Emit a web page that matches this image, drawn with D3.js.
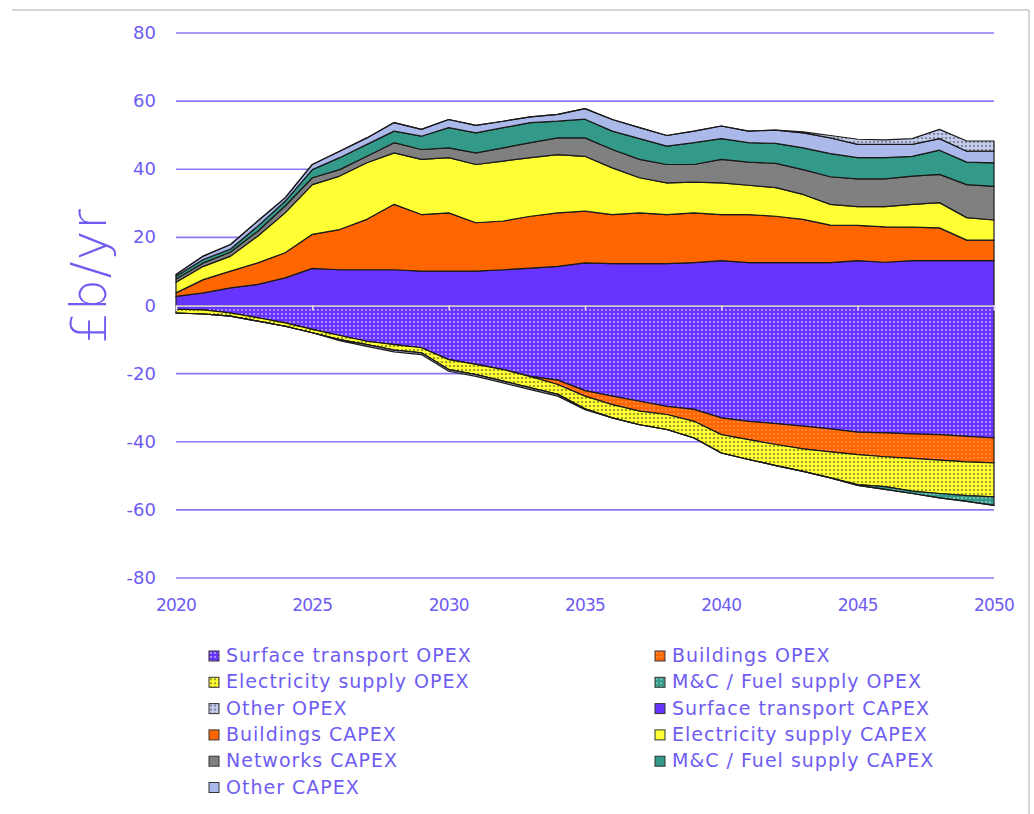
<!DOCTYPE html>
<html>
<head>
<meta charset="utf-8">
<script src="https://cdn.jsdelivr.net/npm/d3@7"></script>
<style>
	body { margin: 0; background: #fff; }
	svg text { font-family: "DejaVu Sans", sans-serif; }
</style>
</head>
<body>
<svg id="chart" width="1034" height="814"></svg>
<script>
// Years on the x axis
var years = d3.range(2020, 2051);

// OPEX series (negative = savings), £b/yr
var stOpex = [-1.1,-1.3,-2.2,-3.6,-5.1,-7.0,-8.8,-10.5,-11.5,-12.4,-15.9,-17.3,-18.8,-20.8,-21.9,-25.0,-26.6,-28.1,-29.6,-30.5,-33.0,-34.0,-34.7,-35.4,-36.2,-37.2,-37.4,-37.7,-37.9,-38.4,-38.9];
var bOpex = [0,0,0,0,0,0,0,0,0,0,0,0,0,-0.1,-1.3,-1.6,-2.5,-2.9,-2.4,-3.5,-4.9,-5.4,-6.1,-6.7,-6.8,-6.6,-7.0,-7.2,-7.5,-7.5,-7.3];
var eOpex = [-1.1,-1.2,-0.9,-1.0,-1.0,-1.0,-1.2,-1.0,-1.6,-1.5,-2.9,-3.0,-3.4,-3.3,-2.9,-3.7,-3.9,-4.0,-4.4,-4.9,-5.4,-5.8,-6.2,-6.6,-7.6,-8.8,-8.8,-9.6,-9.8,-9.9,-10.0];
var mcOpex = [0,0,0,0,0,0,0,0,0,0,0,0,0,0,0,0,0,0,0,0,0,0,0,0,0,-0.2,-0.8,-0.7,-1.3,-1.7,-2.5];
var otherOpex = [0,0,0,0,0,0,-0.3,-0.5,-0.5,-0.5,-0.5,-0.5,-0.5,-0.5,-0.5,-0.3,0,0,0,0,0,0,0,0.3,0.7,1.5,1.3,1.7,2.7,3.0,3.0];

// CAPEX series
var stCapex = [2.7,3.7,5.2,6.2,8.1,10.9,10.5,10.5,10.5,10.1,10.1,10.1,10.5,11.0,11.5,12.5,12.3,12.3,12.3,12.6,13.2,12.6,12.6,12.6,12.6,13.2,12.7,13.2,13.2,13.2,13.2];
var bCapex = [1.0,3.9,4.9,6.3,7.4,10.0,11.8,14.8,19.2,16.6,17.1,14.2,14.3,15.2,15.7,15.2,14.4,14.9,14.4,14.6,13.5,14.1,13.6,12.7,11.0,10.3,10.4,9.8,9.6,6.0,6.0];
var eCapex = [3.1,3.9,4.4,7.9,11.7,14.6,15.7,16.6,15.1,16.2,16.2,17.1,17.6,17.2,17.1,16.1,13.7,10.3,9.3,9.0,9.3,8.6,8.4,7.3,6.1,5.5,5.9,6.7,7.4,6.6,5.9];
var netCapex = [1.0,1.0,1.2,1.4,2.0,2.0,1.9,1.9,3.0,2.9,2.9,3.4,3.9,4.4,4.9,5.4,5.4,5.4,5.4,5.2,6.9,6.8,7.1,7.3,8.1,8.2,8.2,8.3,8.3,9.7,9.9];
var mcCapex = [0.8,1.0,0.9,1.5,1.4,2.4,3.5,3.5,3.4,3.9,5.9,5.9,5.9,5.9,4.9,5.5,5.4,6.1,5.4,6.4,6.1,5.7,5.9,6.4,6.8,6.2,6.2,5.8,7.1,6.6,6.9];
var otherCapex = [0.5,1.0,1.3,1.5,1.0,1.5,1.9,1.9,2.5,2.0,2.4,2.2,1.9,1.7,2.0,3.1,3.4,3.2,3.1,3.4,3.7,3.4,3.9,4.4,4.6,3.9,3.9,3.5,3.4,3.2,3.4];

// Legend order (row-major, two columns)
var seriesNames = ["Surface transport OPEX","Buildings OPEX","Electricity supply OPEX","M&C / Fuel supply OPEX","Other OPEX",
	"Surface transport CAPEX","Buildings CAPEX","Electricity supply CAPEX","Networks CAPEX","M&C / Fuel supply CAPEX","Other CAPEX"];
var seriesValues = [stOpex,bOpex,eOpex,mcOpex,otherOpex,stCapex,bCapex,eCapex,netCapex,mcCapex,otherCapex];

var yTicks = [-80,-60,-40,-20,0,20,40,60,80];
var xTicks = [2020,2025,2030,2035,2040,2045,2050];

// stacking order: savings below zero, spending above
var negKeys = ["Surface transport OPEX","Buildings OPEX","Electricity supply OPEX","M&C / Fuel supply OPEX","Other OPEX"];
var posKeys = ["Surface transport CAPEX","Buildings CAPEX","Electricity supply CAPEX","Networks CAPEX","M&C / Fuel supply CAPEX","Other CAPEX","Other OPEX"];

// fill for each series: base colour, dot colour (null = solid)
var fills = {
	"Surface transport OPEX": ["#6633ff","#ffffff"],
	"Buildings OPEX": ["#ff6600","#ffb080"],
	"Electricity supply OPEX": ["#ffff33","#222222"],
	"M&C / Fuel supply OPEX": ["#339988","#c8f0e8"],
	"Other OPEX": ["#c4ccee","#333333"],
	"Surface transport CAPEX": ["#6633ff",null],
	"Buildings CAPEX": ["#ff6600",null],
	"Electricity supply CAPEX": ["#ffff33",null],
	"Networks CAPEX": ["#808080",null],
	"M&C / Fuel supply CAPEX": ["#339988",null],
	"Other CAPEX": ["#aab8ea",null]
};

var TEXT_COL = "#6e5cf2";
var GRID_COL = "#8a78f6";
var LEFT = 176, RIGHT = 994, TOP = 33, BOTTOM = 578;

var rows = years.map(function(y, i) {
	var r = { year: y };
	seriesNames.forEach(function(n, k) { r[n] = seriesValues[k][i]; });
	return r;
});

var svg = d3.select("#chart");

// outer frame lines
svg.append("line").attr("x1",12).attr("x2",1029).attr("y1",10).attr("y2",10)
	.attr("stroke","#c8c8c8").attr("stroke-width",1.5);
svg.append("line").attr("x1",1029).attr("x2",1029).attr("y1",10).attr("y2",814)
	.attr("stroke","#c8c8c8").attr("stroke-width",1.5);

// dotted patterns
var defs = svg.append("defs");
function patId(name) { return "pat" + seriesNames.indexOf(name); }
seriesNames.forEach(function(n) {
	var f = fills[n];
	if( f[1] == null ) return;
	var p = defs.append("pattern")
		.attr("id", patId(n))
		.attr("patternUnits","userSpaceOnUse")
		.attr("width",4).attr("height",4);
	p.append("rect").attr("width",4).attr("height",4).attr("fill",f[0]);
	p.append("circle").attr("cx",2).attr("cy",2).attr("r",0.8).attr("fill",f[1]);
});
function fillOf(n) {
	return fills[n][1] == null ? fills[n][0] : "url(#" + patId(n) + ")";
}

var x = d3.scaleLinear().domain([2020,2050]).range([LEFT,RIGHT]);
var y = d3.scaleLinear().domain([-80,80]).range([BOTTOM,TOP]);

// horizontal grid
svg.append("g")
	.selectAll("line")
	.data(yTicks)
	.enter()
	.append("line")
	.attr("x1",LEFT).attr("x2",RIGHT)
	.attr("y1",function(d) { return y(d); })
	.attr("y2",function(d) { return y(d); })
	.attr("stroke",GRID_COL)
	.attr("stroke-width",1.6);

// stacks
var posStack = d3.stack().keys(posKeys).value(function(d,k) { return Math.max(d[k],0); })(rows);
var negStack = d3.stack().keys(negKeys).value(function(d,k) { return Math.min(d[k],0); })(rows);

var area = d3.area()
	.x(function(d) { return x(d.data.year); })
	.y0(function(d) { return y(d[0]); })
	.y1(function(d) { return y(d[1]); });

svg.append("g")
	.selectAll("path")
	.data(negStack.concat(posStack))
	.enter()
	.append("path")
	.attr("d", area)
	.attr("fill", function(d) { return fillOf(d.key); })
	.attr("stroke","#1a1a1a")
	.attr("stroke-width",1.2)
	.attr("stroke-linejoin","round");

// light zero axis with small ticks
var zeroAxis = svg.append("g")
	.attr("transform","translate(0," + y(0) + ")")
	.call(d3.axisBottom(x).tickValues(xTicks).tickSize(5).tickFormat(""));
zeroAxis.select(".domain").attr("stroke","#e4e0ee").attr("stroke-width",1.5);
zeroAxis.selectAll(".tick line").attr("stroke","#e4e0ee").attr("stroke-width",1.5);

// y tick labels
svg.append("g")
	.selectAll("text")
	.data(yTicks)
	.enter()
	.append("text")
	.attr("x",156)
	.attr("y",function(d) { return y(d) + 6; })
	.attr("text-anchor","end")
	.attr("fill",TEXT_COL)
	.attr("font-size","18px")
	.text(function(d) { return d; });

// x tick labels
svg.append("g")
	.selectAll("text")
	.data(xTicks)
	.enter()
	.append("text")
	.attr("x",function(d) { return x(d); })
	.attr("y",611)
	.attr("text-anchor","middle")
	.attr("fill",TEXT_COL)
	.attr("font-size","17px")
	.attr("letter-spacing","-0.8")
	.text(function(d) { return d; });

// y axis title
svg.append("text")
	.attr("transform","translate(106,276) rotate(-90)")
	.attr("text-anchor","middle")
	.attr("fill",TEXT_COL)
	.attr("font-size","50px")
	.attr("font-weight","300")
	.attr("letter-spacing","1")
	.text("\u00a3b/yr");

// legend
var legend = svg.append("g")
	.selectAll("g")
	.data(seriesNames)
	.enter()
	.append("g")
	.attr("transform", function(d,i) {
		var col = i % 2, row = Math.floor(i / 2);
		return "translate(" + (col == 0 ? 209 : 655) + "," + (651 + row * 26.3) + ")";
	});
legend.append("rect")
	.attr("width",10).attr("height",10)
	.attr("fill", function(d) { return fillOf(d); })
	.attr("stroke","#333")
	.attr("stroke-width",1);
legend.append("text")
	.attr("x",17)
	.attr("y",11)
	.attr("fill",TEXT_COL)
	.attr("font-size","19px")
	.attr("letter-spacing","1")
	.text(function(d) { return d; });
</script>
</body>
</html>
